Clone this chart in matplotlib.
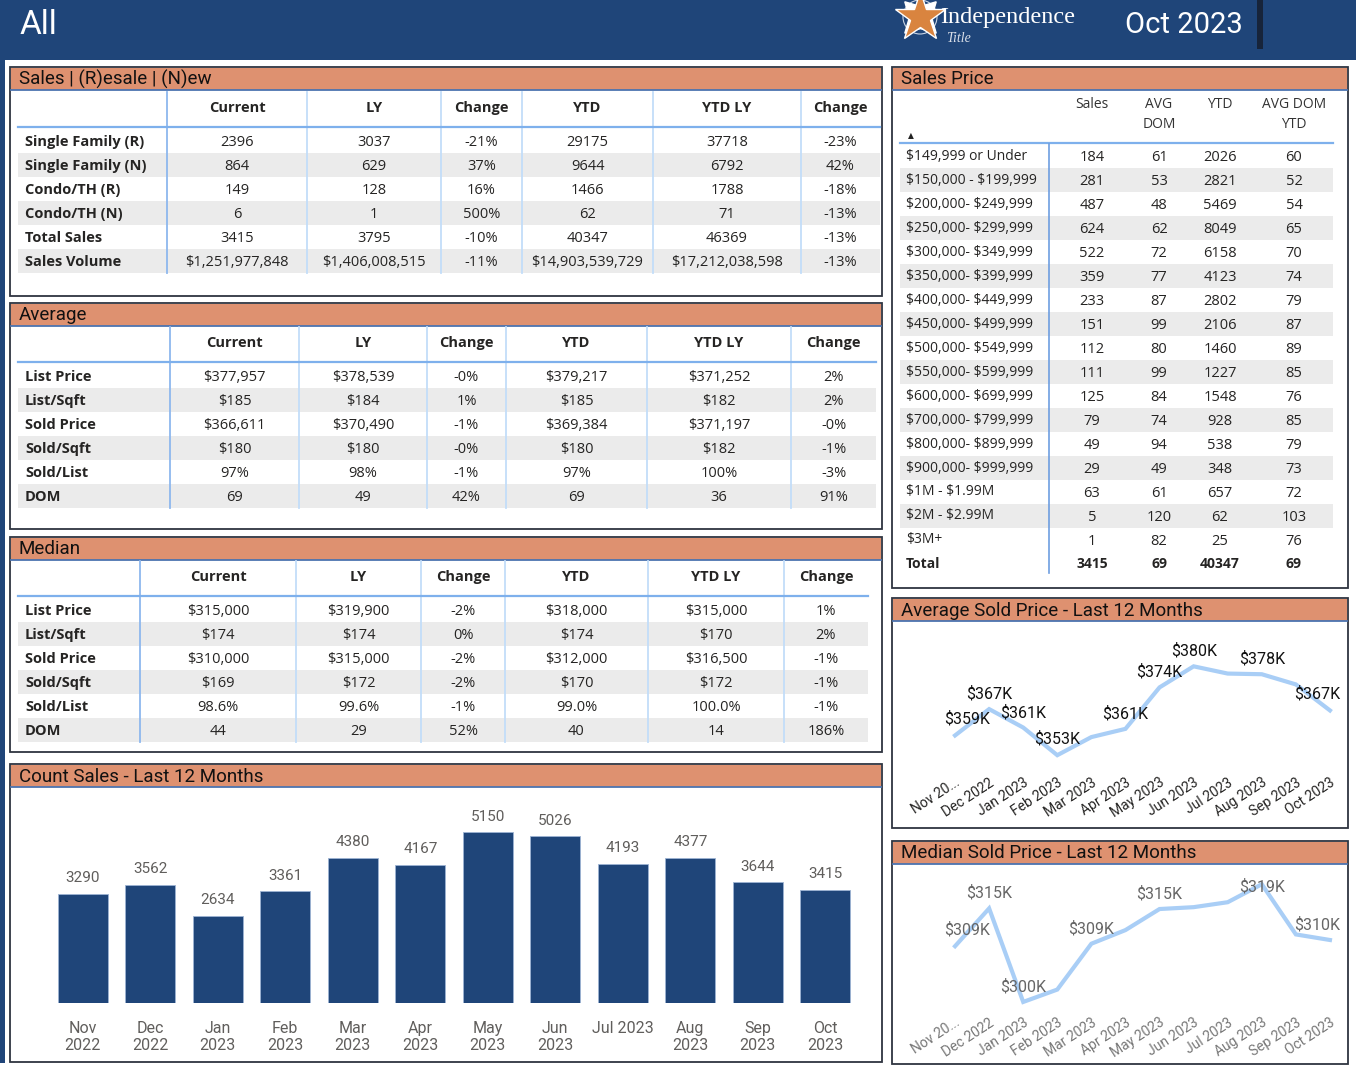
import matplotlib
matplotlib.use("Agg")
import matplotlib.pyplot as plt
from matplotlib.patches import Rectangle, Circle

W, H = 1356, 1068

# ---------------- data ----------------
table_cols = ["Current", "LY", "Change", "YTD", "YTD LY", "Change"]

sales_labels = ["Single Family (R)", "Single Family (N)", "Condo/TH (R)",
                "Condo/TH (N)", "Total Sales", "Sales Volume"]
sales_current = ["2396", "864", "149", "6", "3415", "$1,251,977,848"]
sales_ly = ["3037", "629", "128", "1", "3795", "$1,406,008,515"]
sales_chg = ["-21%", "37%", "16%", "500%", "-10%", "-11%"]
sales_ytd = ["29175", "9644", "1466", "62", "40347", "$14,903,539,729"]
sales_ytd_ly = ["37718", "6792", "1788", "71", "46369", "$17,212,038,598"]
sales_ytd_chg = ["-23%", "42%", "-18%", "-13%", "-13%", "-13%"]

stat_labels = ["List Price", "List/Sqft", "Sold Price", "Sold/Sqft", "Sold/List", "DOM"]

avg_current = ["$377,957", "$185", "$366,611", "$180", "97%", "69"]
avg_ly = ["$378,539", "$184", "$370,490", "$180", "98%", "49"]
avg_chg = ["-0%", "1%", "-1%", "-0%", "-1%", "42%"]
avg_ytd = ["$379,217", "$185", "$369,384", "$180", "97%", "69"]
avg_ytd_ly = ["$371,252", "$182", "$371,197", "$182", "100%", "36"]
avg_ytd_chg = ["2%", "2%", "-0%", "-1%", "-3%", "91%"]

med_current = ["$315,000", "$174", "$310,000", "$169", "98.6%", "44"]
med_ly = ["$319,900", "$174", "$315,000", "$172", "99.6%", "29"]
med_chg = ["-2%", "0%", "-2%", "-2%", "-1%", "52%"]
med_ytd = ["$318,000", "$174", "$312,000", "$170", "99.0%", "40"]
med_ytd_ly = ["$315,000", "$170", "$316,500", "$172", "100.0%", "14"]
med_ytd_chg = ["1%", "2%", "-1%", "-1%", "-1%", "186%"]

price_ranges = ["$149,999 or Under", "$150,000 - $199,999", "$200,000- $249,999",
                "$250,000- $299,999", "$300,000- $349,999", "$350,000- $399,999",
                "$400,000- $449,999", "$450,000- $499,999", "$500,000- $549,999",
                "$550,000- $599,999", "$600,000- $699,999", "$700,000- $799,999",
                "$800,000- $899,999", "$900,000- $999,999", "$1M - $1.99M",
                "$2M - $2.99M", "$3M+"]
range_sales = [184, 281, 487, 624, 522, 359, 233, 151, 112, 111, 125, 79, 49, 29, 63, 5, 1]
range_dom = [61, 53, 48, 62, 72, 77, 87, 99, 80, 99, 84, 74, 94, 49, 61, 120, 82]
range_ytd = [2026, 2821, 5469, 8049, 6158, 4123, 2802, 2106, 1460, 1227, 1548, 928,
             538, 348, 657, 62, 25]
range_dom_ytd = [60, 52, 54, 65, 70, 74, 79, 87, 89, 85, 76, 85, 79, 73, 72, 103, 76]
range_totals = ["3415", "69", "40347", "69"]

bar_months = ["Nov\n2022", "Dec\n2022", "Jan\n2023", "Feb\n2023", "Mar\n2023", "Apr\n2023",
              "May\n2023", "Jun\n2023", "Jul 2023", "Aug\n2023", "Sep\n2023", "Oct\n2023"]
count_sales = [3290, 3562, 2634, 3361, 4380, 4167, 5150, 5026, 4193, 4377, 3644, 3415]

line_months = ["Nov 20...", "Dec 2022", "Jan 2023", "Feb 2023", "Mar 2023", "Apr 2023",
               "May 2023", "Jun 2023", "Jul 2023", "Aug 2023", "Sep 2023", "Oct 2023"]
avg_sold_k = [359.0, 367.0, 361.4, 353.0, 358.5, 361.0, 373.6, 380.0, 377.8, 377.6, 374.5, 366.6]
avg_labeled = [0, 1, 2, 3, 5, 6, 7, 9, 11]
med_sold_k = [309.0, 315.1, 300.0, 302.0, 309.4, 311.6, 315.0, 315.3, 316.1, 319.0, 310.9, 310.0]
med_labeled = [0, 1, 2, 4, 6, 9, 11]

# ---------------- style ----------------
NAVY = "#1F4579"
ORANGE = "#DE9170"
BAND = "#EBEBEB"
SEP = "#C3DDF9"
ULINE = "#7EB0EC"
BORDER = "#2E3440"
TXT = "#252423"
GREY = "#605E5C"
LINE = "#A9CEF6"
TFONT = ["Roboto", "DejaVu Sans"]
BFONT = ["Open Sans", "DejaVu Sans"]
ROW = 24

fig = plt.figure(figsize=(W / 100, H / 100), dpi=100)
bg = fig.add_axes([0, 0, 1, 1])
bg.set_xlim(0, W)
bg.set_ylim(H, 0)
bg.axis("off")


def txt(x, y, s, **kw):
    kw.setdefault("family", BFONT)
    kw.setdefault("color", TXT)
    kw.setdefault("va", "center")
    return bg.text(x, y, s, parse_math=False, **kw)


def px_axes(x0, y0, x1, y1):
    a = fig.add_axes([x0 / W, 1 - y1 / H, (x1 - x0) / W, (y1 - y0) / H])
    a.patch.set_alpha(0)
    return a


def panel(x0, y0, x1, y1, title):
    bg.add_patch(Rectangle((x0, y0), x1 - x0, y1 - y0, fc="white", ec=BORDER, lw=1.3))
    bg.add_patch(Rectangle((x0 + 1, y0 + 1), x1 - x0 - 2, 22, fc=ORANGE, ec="none"))
    bg.plot([x0 + 1, x1 - 1], [y0 + 23, y0 + 23], color="#4C74B0", lw=1.3)
    txt(x0 + 9, y0 + 12.5, title, fontsize=13.5, family=TFONT, color="#111")


def stat_table(labels, columns, seps, right, y_head, y_first):
    left = 18
    n = len(labels)
    for i in range(n):
        y = y_first + i * ROW
        if i % 2 == 1:
            bg.add_patch(Rectangle((left, y - ROW / 2), right - left, ROW, fc=BAND, ec="none"))
        txt(25, y + 1, labels[i], fontsize=10.5, fontweight="bold")
    edges = seps + [right]
    for j, col in enumerate(columns):
        cx = (edges[j] + edges[j + 1]) / 2
        txt(cx, y_head + 1, table_cols[j], fontsize=10.5, fontweight="bold", ha="center")
        for i, v in enumerate(col):
            txt(cx, y_first + i * ROW + 1.5, v, fontsize=10.5, ha="center")
    bottom = y_first + (n - 1) * ROW + ROW / 2
    for k, x in enumerate(seps):
        bg.plot([x, x], [y_head - 15, bottom], color="#8DB8EE" if k == 0 else SEP, lw=1.3)
    bg.plot([left, right], [y_head + 20, y_head + 20], color=ULINE, lw=1.6)


# ---------------- header ----------------
bg.add_patch(Rectangle((0, 0), W, 60, fc=NAVY, ec="none"))
bg.add_patch(Rectangle((0, 60), 5, 1003, fc=NAVY, ec="none"))
txt(20, 25, "All", fontsize=24, family=TFONT, color="white")
txt(1184, 25, "Oct 2023", fontsize=21, family=TFONT, color="white", ha="center")
bg.add_patch(Rectangle((1257, 0), 6, 49, fc="#17243A", ec="none"))
bg.add_patch(Circle((920, 17), 17, fc="none", ec="#C9D4E4", lw=0.8))
bg.plot(920, 17, marker=(4, 1, 45), ms=32, color="white", mec="white")
bg.plot(920, 17, marker="*", ms=38, color="#D9843F", mec="white", mew=1)
txt(940, 17, "Independence", fontsize=17.5, family=["Liberation Serif", "DejaVu Serif"],
    color="white")
txt(946, 38, "Title", fontsize=10, family=["Liberation Serif", "DejaVu Serif"],
    style="italic", color="#D8DEE8")

# ---------------- left column panels ----------------
panel(10, 67, 882, 296, "Sales | (R)esale | (N)ew")
stat_table(sales_labels, [sales_current, sales_ly, sales_chg, sales_ytd, sales_ytd_ly, sales_ytd_chg],
           [167, 307, 441, 522, 653, 801], 880, 107, 141)

panel(10, 303, 882, 529, "Average")
stat_table(stat_labels, [avg_current, avg_ly, avg_chg, avg_ytd, avg_ytd_ly, avg_ytd_chg],
           [170, 299, 427, 506, 647, 791], 876, 342, 376)

panel(10, 537, 882, 752, "Median")
stat_table(stat_labels, [med_current, med_ly, med_chg, med_ytd, med_ytd_ly, med_ytd_chg],
           [140, 296, 421, 505, 648, 784], 868, 576, 610)

panel(10, 764, 882, 1062, "Count Sales - Last 12 Months")
axb = px_axes(49, 800, 859, 1003)
xb = range(len(count_sales))
bars = axb.bar(xb, count_sales, width=0.74, color=NAVY, edgecolor="#9DB4D3", linewidth=0.6)
for i, v in enumerate(count_sales):
    axb.annotate(str(v), (i, v), xytext=(0, 6), textcoords="offset points",
                 ha="center", va="bottom", fontsize=11, family=TFONT, color=GREY)
axb.set_xlim(-0.5, len(count_sales) - 0.5)
axb.set_ylim(0, 6114)
axb.set_xticks(list(xb))
axb.set_xticklabels(bar_months, fontsize=11.5, family=TFONT, color=GREY, va="top")
axb.tick_params(axis="x", length=0, pad=13)
axb.set_yticks([])
for s in axb.spines.values():
    s.set_visible(False)

# ---------------- sales price table ----------------
panel(892, 67, 1348, 588, "Sales Price")
col_x = [1092, 1159, 1220, 1294]
txt(1092, 105, "Sales", fontsize=10, ha="center", color="#333")
txt(1159, 105, "AVG", fontsize=10, ha="center", color="#333")
txt(1159, 124, "DOM", fontsize=10, ha="center", color="#333")
txt(1220, 105, "YTD", fontsize=10, ha="center", color="#333")
txt(1294, 105, "AVG DOM", fontsize=10, ha="center", color="#333")
txt(1294, 124, "YTD", fontsize=10, ha="center", color="#333")
txt(911, 136, "\u25B2", fontsize=5.5, family="DejaVu Sans", ha="center", color="#222")
for i, lab in enumerate(price_ranges):
    y = 156 + i * ROW
    if i % 2 == 1:
        bg.add_patch(Rectangle((900, y - ROW / 2), 433, ROW, fc=BAND, ec="none"))
    txt(906, y, lab, fontsize=10)
    vals = [range_sales[i], range_dom[i], range_ytd[i], range_dom_ytd[i]]
    for cx, v in zip(col_x, vals):
        txt(cx, y + 1.5, str(v), fontsize=10.5, ha="center")
yt = 156 + len(price_ranges) * ROW
txt(906, yt, "Total", fontsize=10, fontweight="bold")
for cx, v in zip(col_x, range_totals):
    txt(cx, yt, v, fontsize=10, fontweight="bold", ha="center")
bg.plot([900, 1333], [143, 143], color=ULINE, lw=1.6)
bg.plot([1049, 1049], [144, 573], color="#6E9EE0", lw=1.2)


# ---------------- line charts ----------------
def line_chart(y0, y1, vals, labeled, ylim, lab_color, tick_color, offsets):
    ax = px_axes(938, y0, 1347, y1)
    x = range(len(vals))
    ax.plot(x, vals, color=LINE, lw=3, solid_joinstyle="miter")
    for i in labeled:
        dx, dy = offsets.get(i, (0, 11))
        ax.annotate("$%dK" % round(vals[i]), (i, vals[i]), xytext=(dx, dy),
                    textcoords="offset points", ha="center", va="center",
                    fontsize=11.5, family=TFONT, color=lab_color)
    ax.set_xlim(-0.5, len(vals) - 0.5)
    ax.set_ylim(*ylim)
    ax.set_xticks(list(x))
    ax.set_xticklabels(line_months, rotation=33, ha="right", va="top", rotation_mode="anchor",
                       fontsize=10, family=TFONT, color=tick_color)
    ax.tick_params(axis="x", length=0, pad=4)
    ax.set_yticks([])
    for s in ax.spines.values():
        s.set_visible(False)
    return ax


panel(892, 598, 1348, 828, "Average Sold Price - Last 12 Months")
line_chart(640, 770, avg_sold_k, avg_labeled, (348.5, 388), "#111", TXT,
           {0: (9, 12), 3: (0, 12), 11: (-9, 12)})

panel(892, 841, 1348, 1064, "Median Sold Price - Last 12 Months")
line_chart(870, 1010, med_sold_k, med_labeled, (298.7, 321.3), "#666", "#777",
           {0: (9, 12), 9: (0, -2), 11: (-9, 11)})

fig.savefig("out.png", dpi=100)
